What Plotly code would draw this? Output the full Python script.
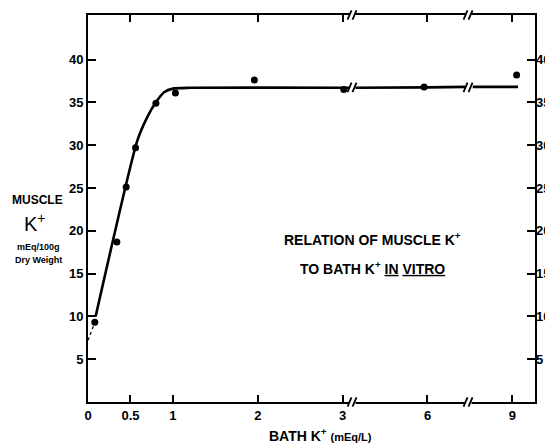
import plotly.graph_objects as go

# ---- data (bath K+ in mEq/L, muscle K+ in mEq/100 g dry weight) ----
bath_k = [0.08, 0.34, 0.45, 0.56, 0.80, 1.03, 1.96, 3.04, 5.88, 9.15]
muscle_k = [9.3, 18.7, 25.1, 29.7, 34.9, 36.1, 37.6, 36.5, 36.8, 38.2]

# fitted curve (None = axis-break gap)
curve_x = [0.09, 0.58, 0.70, 0.80, 0.90, 1.00, 1.20, 3.00, 3.33, None, 3.42, 6.0, 7.35, None, 7.6, 9.2]
curve_y = [10.0, 30.5, 33.3, 35.0, 36.2, 36.6, 36.7, 36.7, 36.7, None, 36.7, 36.75, 36.8, None, 36.8, 36.8]

# dotted extrapolation to the y axis
dot_x = [0.0, 0.08]
dot_y = [7.2, 9.3]

x_tick_vals = [0, 0.5, 1, 2, 3, 6, 9]
x_tick_text = ["0", "0.5", "1", "2", "3", "6", "9"]
y_tick_vals = [5, 10, 15, 20, 25, 30, 35, 40]
breaks = [3.35, 7.45]  # bath K+ values where the axis is broken


def to_axis(v):
    """Broken scale: linear to 3, then compressed 3x."""
    if v is None:
        return None
    return v if v <= 3 else 3 + (v - 3) / 3.0


FONT = "Liberation Sans"
fig = go.Figure()

fig.add_trace(go.Scatter(
    x=[to_axis(v) for v in curve_x], y=curve_y, mode="lines",
    line=dict(color="black", width=2.6, shape="spline", smoothing=0.6),
    connectgaps=False, hoverinfo="skip", showlegend=False))
fig.add_trace(go.Scatter(
    x=[to_axis(v) for v in dot_x], y=dot_y, mode="lines",
    line=dict(color="black", width=1.3, dash="dot"), showlegend=False))
fig.add_trace(go.Scatter(
    x=[to_axis(v) for v in bath_k], y=muscle_k, mode="markers",
    marker=dict(color="black", size=7), showlegend=False))
# invisible trace to carry the right-hand axis
fig.add_trace(go.Scatter(x=[0], y=[0], yaxis="y2", mode="markers",
                         marker=dict(opacity=0), showlegend=False, hoverinfo="skip"))

YMAX = 45.2
XMAX = to_axis(9.8)

# axis breaks: white gaps with double slashes on the bottom/top axes and the curve
shapes = []
px_x = 1 / 85.0
for b in breaks:
    xb = to_axis(b)
    for (yref, yc, hy, gap_h) in [("paper", 0.0, 0.012, 0.012), ("paper", 1.0, 0.012, 0.012),
                                   ("y", 36.75, 0.55, 0.5)]:
        shapes.append(dict(type="rect", xref="x", yref=yref, layer="above",
                           x0=xb - 3 * px_x, x1=xb + 3 * px_x, y0=yc - gap_h, y1=yc + gap_h,
                           fillcolor="white", line=dict(width=0)))
        for off in (-3.5, 1.5):
            shapes.append(dict(type="line", xref="x", yref=yref, layer="above",
                               x0=xb + off * px_x - 1.5 * px_x, x1=xb + off * px_x + 2.5 * px_x,
                               y0=yc - hy, y1=yc + hy,
                               line=dict(color="black", width=1.8)))

# page body has an 8px default margin: figure is drawn 8px in from the window corner
OFF = 8
annotations = [
    dict(text="<b>MUSCLE</b>", x=37, y=200, size=12),
    dict(text="K<sup>+</sup>", x=35, y=222, size=20),
    dict(text="<b>mEq/100g</b>", x=38, y=247, size=9),
    dict(text="<b>Dry Weight</b>", x=38, y=260, size=9),
    dict(text="<b>BATH K<sup>+</sup></b> <b><span style='font-size:11px'>(mEq/L)</span></b>",
         x=320, y=435, size=14),
    dict(text="<b>RELATION OF MUSCLE K<sup>+</sup></b>", x=372, y=239, size=14),
    dict(text="<b>TO BATH K<sup>+</sup> <u>IN</u> <u>VITRO</u></b>", x=372, y=268, size=14),
]
W, H = 553 - OFF, 444 - OFF
L, R, T, B = 88, 535, 15, 402   # plot area in window pixels
ann = []
for a in annotations:
    ann.append(dict(text=a["text"], xref="paper", yref="paper",
                    x=(a["x"] - L) / (R - L), y=(B - a["y"]) / (B - T),
                    showarrow=False, xanchor="center", yanchor="middle",
                    font=dict(family=FONT, color="black", size=a["size"])))

tf = dict(family=FONT, size=13, weight="bold", color="black")
fig.update_layout(
    width=W, height=H,
    margin=dict(l=L - OFF, r=553 - R, t=T - OFF, b=444 - B, autoexpand=False),
    paper_bgcolor="white", plot_bgcolor="white",
    font=dict(family=FONT, color="black"),
    xaxis=dict(range=[0, XMAX], tickvals=[to_axis(v) for v in x_tick_vals],
               ticktext=x_tick_text, ticks="inside", ticklen=7, tickwidth=2,
               tickcolor="black", showline=True, linewidth=2, linecolor="black",
               mirror="ticks", showgrid=False, zeroline=False, automargin=False,
               tickfont=tf),
    yaxis=dict(range=[0, YMAX], tickvals=y_tick_vals, ticks="inside", ticklen=8,
               tickwidth=2, tickcolor="black", showline=True, linewidth=2,
               linecolor="black", mirror="ticks", showgrid=False, zeroline=False,
               automargin=False, tickfont=tf),
    yaxis2=dict(range=[0, YMAX], tickvals=y_tick_vals, overlaying="y", side="right",
                showline=False, ticks="", showgrid=False, zeroline=False,
                automargin=False, tickfont=tf),
    shapes=shapes,
    annotations=ann,
)

fig.write_html("out.html")
